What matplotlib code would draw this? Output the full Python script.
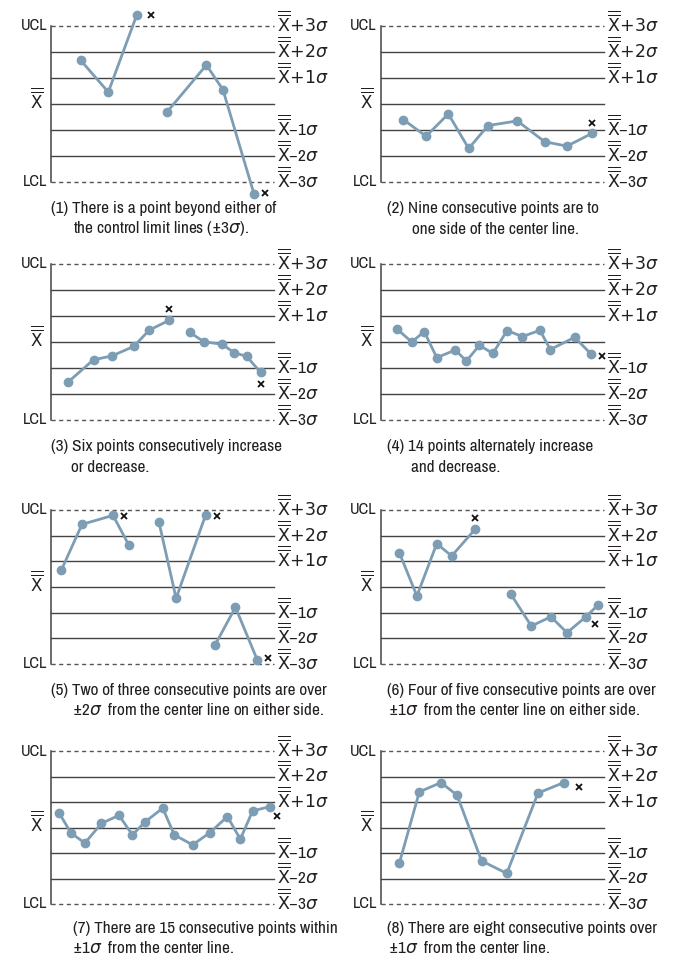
import numpy as np
import matplotlib
matplotlib.use("Agg")
import matplotlib.pyplot as plt
from matplotlib import font_manager as fm

nan = np.nan

# x in % of the chart width, y in sigma units; nan breaks the line
P1_X = [13.3, 25.7, 38.4, nan, 51.9, 69.7, 77.1, 91.0]
P1_Y = [1.68, 0.46, 3.41, nan, -0.32, 1.50, 0.55, -3.45]
P1_MX = [44.7, 96.0]
P1_MY = [3.44, -3.42]

P2_X = [10.0, 20.2, 30.2, 39.3, 48.0, 61.1, 73.4, 83.4, 94.6]
P2_Y = [-0.60, -1.24, -0.38, -1.71, -0.83, -0.65, -1.45, -1.62, -1.13]
P2_MX = [94.6]
P2_MY = [-0.73]

P3_X = [7.8, 19.1, 27.2, 37.1, 44.1, 52.9, nan, 62.2, 68.6, 76.8, 82.1, 87.7, 94.0]
P3_Y = [-1.53, -0.68, -0.54, -0.17, 0.46, 0.83, nan, 0.37, 0.01, -0.09, -0.41, -0.55, -1.17]
P3_MX = [52.9, 94.3]
P3_MY = [1.27, -1.62]

P4_X = [7.3, 13.8, 19.4, 25.0, 33.3, 38.3, 44.1, 50.2, 56.5, 63.4, 71.3, 75.9, 86.8, 94.3]
P4_Y = [0.49, 0.0, 0.40, -0.60, -0.31, -0.73, -0.13, -0.44, 0.44, 0.21, 0.45, -0.29, 0.18, -0.47]
P4_MX = [99.3]
P4_MY = [-0.53]

P5_X = [4.6, 13.9, 27.8, 34.8, nan, 48.4, 56.1, 69.4, nan, 73.5, 82.7, 92.5]
P5_Y = [0.65, 2.44, 2.79, 1.65, nan, 2.53, -0.44, 2.82, nan, -2.27, -0.79, -2.84]
P5_MX = [32.6, 74.3, 97.3]
P5_MY = [2.77, 2.77, -2.78]

P6_X = [8.2, 16.1, 25.0, 31.7, 42.3, nan, 58.1, 67.4, 76.2, 83.4, 91.9, 97.2]
P6_Y = [1.34, -0.35, 1.69, 1.21, 2.26, nan, -0.26, -1.52, -1.16, -1.78, -1.16, -0.71]
P6_MX = [42.3, 96.0]
P6_MY = [2.70, -1.44]

P7_X = [3.7, 9.0, 15.2, 22.6, 30.5, 36.5, 42.2, 50.1, 55.3, 63.5, 71.3, 79.1, 84.9, 90.4, 98.2]
P7_Y = [0.56, -0.22, -0.61, 0.16, 0.48, -0.29, 0.22, 0.76, -0.29, -0.68, -0.20, 0.43, -0.46, 0.65, 0.82]
P7_MX = [101.5]
P7_MY = [0.44]

P8_X = [8.2, 17.2, 26.9, 34.1, 45.1, 56.4, 70.4, 81.9]
P8_Y = [-1.41, 1.40, 1.76, 1.27, -1.31, -1.80, 1.35, 1.76]
P8_MX = [88.6]
P8_MY = [1.57]

LEVELS = [3, 2, 1, 0, -1, -2, -3]
RIGHT_LABELS = [r'$\overline{\overline{\mathrm{X}}}\!+\!3\sigma$',
                r'$\overline{\overline{\mathrm{X}}}\!+\!2\sigma$',
                r'$\overline{\overline{\mathrm{X}}}\!+\!1\sigma$',
                None,
                r'$\overline{\overline{\mathrm{X}}}$–1$\sigma$',
                r'$\overline{\overline{\mathrm{X}}}$–2$\sigma$',
                r'$\overline{\overline{\mathrm{X}}}$–3$\sigma$']

CAPTIONS = [
    ["(1) There is a point beyond either of", r"the control limit lines (±3$\sigma$)."],
    ["(2) Nine consecutive points are to", "one side of the center line."],
    ["(3) Six points consecutively increase", "or decrease."],
    ["(4) 14 points alternately increase", "and decrease."],
    ["(5) Two of three consecutive points are over", r"±2$\sigma$  from the center line on either side."],
    ["(6) Four of five consecutive points are over", r"±1$\sigma$  from the center line on either side."],
    ["(7) There are 15 consecutive points within", r"±1$\sigma$  from the center line."],
    ["(8) There are eight consecutive points over", r"±1$\sigma$  from the center line."],
]

PANELS = [(P1_X, P1_Y, P1_MX, P1_MY), (P2_X, P2_Y, P2_MX, P2_MY),
          (P3_X, P3_Y, P3_MX, P3_MY), (P4_X, P4_Y, P4_MX, P4_MY),
          (P5_X, P5_Y, P5_MX, P5_MY), (P6_X, P6_Y, P6_MX, P6_MY),
          (P7_X, P7_Y, P7_MX, P7_MY), (P8_X, P8_Y, P8_MX, P8_MY)]

# pick a narrow sans if one is installed (the reference uses a condensed face)
fam, stretch = 'Liberation Sans', 'normal'
for f in fm.fontManager.ttflist:
    if f.style != 'normal':
        continue
    if 'Narrow' in f.name or 'Condensed' in f.name:
        fam, stretch = f.name, 'normal'
        break
    if str(f.stretch) in ('condensed', 'semi-condensed') and f.name in ('DejaVu Sans', 'Noto Sans', 'Open Sans', 'Roboto', 'Liberation Sans'):
        fam, stretch = f.name, str(f.stretch)
plt.rcParams['font.family'] = [fam, 'DejaVu Sans']
plt.rcParams['font.stretch'] = stretch

W, H = 677, 966
COL_X = [(51, 274), (381, 604)]           # axis line x, line end x (px)
ROW_Y = [(26, 182), (264, 420), (510, 664), (751, 904)]  # UCL, LCL (px)
CAP_Y = [(209, 229), (447, 467), (690, 710), (929, 948)]
CAP_X = [(51, 73), (387, 412), (51, 71), (387, 411),
         (51, 72), (387, 388), (73, 72), (387, 388)]

LINE_C = '#7c9db4'
TXT_C = '#231f20'
GRID_C = '#444444'

fig = plt.figure(figsize=(W / 100, H / 100), dpi=100)
rend = fig.canvas.get_renderer()


def fit_size(s, width_px):
    t = fig.text(0, 0, s, fontsize=10)
    w = t.get_window_extent(rend).width
    t.remove()
    return 10 * width_px / w


lab_fs = fit_size('UCL', 27)
cap_fs = fit_size(CAPTIONS[4][0], 277)

for i, (xs, ys, mx, my) in enumerate(PANELS):
    r, c = divmod(i, 2)
    x0, x1 = COL_X[c]
    ytop, ybot = ROW_Y[r]
    ax = fig.add_axes([x0 / W, 1 - ybot / H, (x1 - x0) / W, (ybot - ytop) / H])
    ax.set_xlim(0, 100)
    ax.set_ylim(-3, 3)
    ax.axis('off')

    for lev, lab in zip(LEVELS, RIGHT_LABELS):
        if abs(lev) == 3:
            ax.plot([0, 100], [lev, lev], color='#555555', lw=1.0, ls=(0, (3, 2.5)),
                    clip_on=False, zorder=1)
        else:
            ax.plot([0, 100], [lev, lev], color=GRID_C, lw=1.0, clip_on=False, zorder=1)
        if lab is not None:
            ax.annotate(lab, xy=(100, lev), xytext=(3, -6), textcoords='offset pixels',
                        ha='left', va='baseline', fontsize=12.5, color=TXT_C,
                        annotation_clip=False)
    ax.plot([0, 0], [-3, 3], color=GRID_C, lw=1.1, clip_on=False, zorder=1)

    ax.annotate('UCL', xy=(0, 3), xytext=(-4, 0), textcoords='offset pixels',
                ha='right', va='center', fontsize=lab_fs, color=TXT_C, annotation_clip=False)
    ax.annotate('LCL', xy=(0, -3), xytext=(-4, 0), textcoords='offset pixels',
                ha='right', va='center', fontsize=lab_fs, color=TXT_C, annotation_clip=False)
    ax.annotate(r'$\overline{\overline{\mathrm{X}}}$', xy=(0, 0), xytext=(-8, -4),
                textcoords='offset pixels', ha='right', va='baseline', fontsize=12,
                color=TXT_C, annotation_clip=False)

    ax.plot(xs, ys, color=LINE_C, lw=2.0, marker='o', ms=6, mec=LINE_C, mfc=LINE_C,
            clip_on=False, zorder=3)
    ax.plot(mx, my, ls='none', marker='x', ms=5, mew=1.3, color='#111111',
            clip_on=False, zorder=4)

    for j, line in enumerate(CAPTIONS[i]):
        fig.text(CAP_X[i][j] / W, 1 - CAP_Y[r][j] / H, line, ha='left', va='center',
                 fontsize=cap_fs, color=TXT_C)

fig.savefig('out.png', dpi=100)
